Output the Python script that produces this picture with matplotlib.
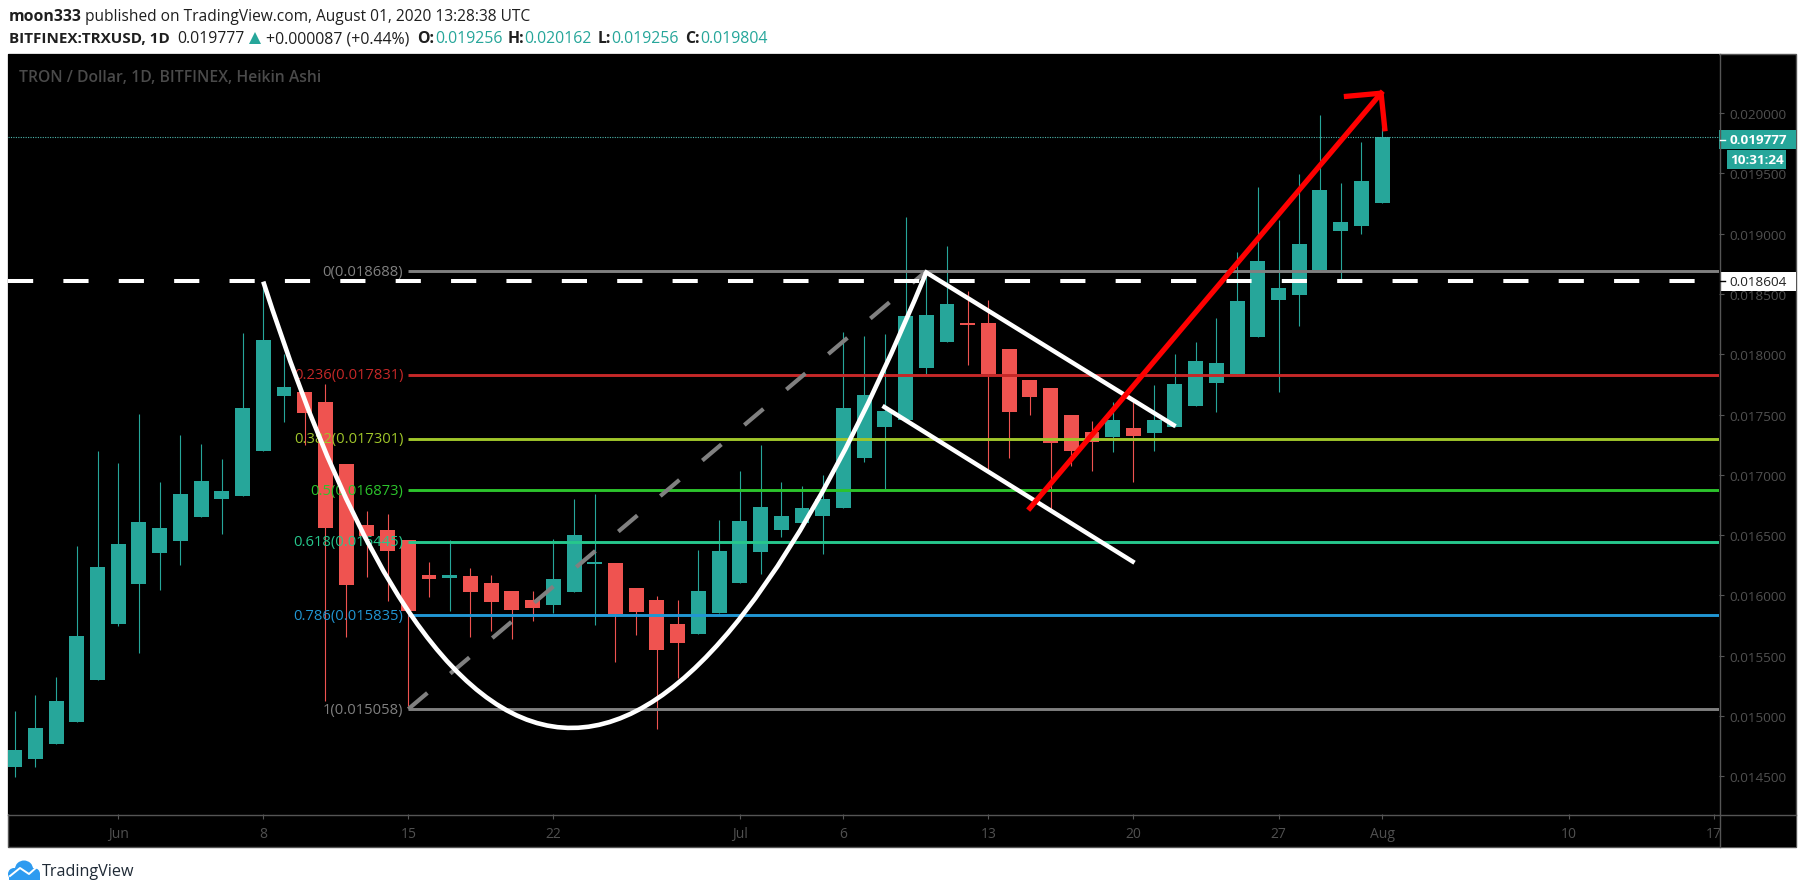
import matplotlib
matplotlib.use("Agg")
import matplotlib.pyplot as plt
from matplotlib.patches import Rectangle, Ellipse, Polygon, PathPatch
from matplotlib.path import Path
from matplotlib.lines import Line2D
import numpy as np

W, H = 1805, 895
plt.rcParams["font.family"] = ["Open Sans", "DejaVu Sans"]

GREEN = "#26a69a"
RED = "#ef5350"
FRAME = "#555555"
TICK_TEXT = "#505050"

# daily Heikin Ashi candles, prices in millionths, first candle is May 27 (day -5 from Jun 1)
first_day = -5
opens = [14579, 14646, 14772, 14947, 15303, 15767, 16099, 16349, 16455, 16648, 16796, 16826, 17194, 17652,
         17688, 17607, 17091, 16588, 16545, 16461, 16171, 16147, 16162, 16105, 16039, 15963, 15921, 16030, 16262,
         16269, 16064, 15964, 15765, 15681, 15856, 16103, 16362, 16543, 16600, 16661, 16727, 17140, 17400, 17454,
         17888, 18102, 18262, 18262, 18045, 17788, 17722, 17499, 17357, 17315, 17390, 17348, 17400, 17571, 17758,
         17838, 18140, 18452, 18493, 18701, 19024, 19060, 19256]
closes = [14721, 14902, 15125, 15665, 16238, 16428, 16612, 16560, 16844, 16952, 16868, 17555, 18119, 17730,
          17510, 16560, 16084, 16494, 16370, 15867, 16138, 16171, 16030, 15948, 15882, 15897, 16138, 16503, 16274,
          15844, 15865, 15548, 15605, 16037, 16368, 16619, 16733, 16661, 16727, 16799, 17556, 17665, 17532, 18319,
          18328, 18419, 18244, 17834, 17523, 17647, 17267, 17201, 17276, 17457, 17321, 17457, 17755, 17945, 17930,
          18444, 18775, 18551, 18916, 19364, 19099, 19439, 19804]
highs = [15044, 15176, 15324, 16413, 17200, 17100, 17507, 16943, 17332, 17257, 17133, 18180, 18602, 18002,
         17688, 17751, 17091, 16702, 16675, 16461, 16280, 16461, 16229, 16168, 16039, 16039, 16467, 16802, 16841,
         16269, 16064, 15994, 15964, 16377, 16628, 17035, 17249, 16941, 16908, 17002, 18186, 18153, 18168, 19139,
         18678, 18898, 18527, 18452, 18045, 17788, 17722, 17499, 17448, 17602, 17602, 17746, 18003, 18102, 18303,
         18850, 19389, 19115, 19497, 19986, 19422, 19762, 20162]
lows = [14495, 14579, 14772, 14947, 15303, 15749, 15526, 16042, 16250, 16648, 16506, 16826, 17194, 17435,
        17245, 15128, 15659, 16153, 15951, 15083, 15987, 15873, 15653, 15707, 15641, 15791, 15852, 16030, 15752,
        15452, 15669, 14894, 15316, 15681, 15856, 16103, 16181, 16486, 16600, 16347, 16727, 17110, 16881, 17454,
        17834, 18102, 17912, 17050, 17140, 17496, 16718, 17074, 17035, 17191, 16941, 17201, 17400, 17571, 17518,
        17838, 18140, 17683, 18231, 18701, 18618, 18999, 19256]

fib_ratios = ["0", "0.236", "0.382", "0.5", "0.618", "0.786", "1"]
fib_prices = [0.018688, 0.017831, 0.017301, 0.016873, 0.016445, 0.015835, 0.015058]
fib_colors = ["#808080", "#c62828", "#a0c62a", "#2cc42c", "#26c78c", "#2196d3", "#808080"]
fib_start = 14

resistance = 0.018604
last_price = 0.019777
last_close = 0.019804

# hand drawn shapes: days from Jun 1 and prices
cup_days = [7.0, 20.9, 39.0]
cup_prices = [18602, 11163, 18678]
flag_upper_days = [39.0, 50.94]
flag_upper_prices = [18678, 17412]
flag_lower_days = [36.98, 48.96]
flag_lower_prices = [17562, 16281]
fib_link_days = [14.0, 39.0]
fib_link_prices = [15058, 18688]
arrow_days = [44.0, 60.95]
arrow_prices = [16724, 20164]
arrow_head_days = [59.28, 60.95, 61.13]
arrow_head_prices = [20138, 20164, 19870]

x_ticks = [0, 7, 14, 21, 30, 35, 42, 49, 56, 61, 70, 77]
x_labels = ["Jun", "8", "15", "22", "Jul", "6", "13", "20", "27", "Aug", "10", "17"]
y_ticks = [0.0145, 0.015, 0.0155, 0.016, 0.0165, 0.017, 0.0175, 0.018, 0.0185, 0.019, 0.0195, 0.02]


def fx(x):
    return x / W


def fy(y):
    return 1 - y / H


def micro(values):
    return np.array(values) / 1e6


fig = plt.figure(figsize=(W / 100, H / 100), dpi=100, facecolor="white")

# chart box, price strip and date strip
fig.add_artist(Rectangle((fx(8), fy(848)), fx(1796 - 8), (848 - 55) / H, transform=fig.transFigure,
                         facecolor="black", edgecolor=FRAME, linewidth=1, zorder=-1))

ax = fig.add_axes([fx(8), fy(815), fx(1719 - 8), (815 - 55) / H], facecolor="black")
ax.set_xlim(-5.32, 77.26)
ax.set_ylim(0.014188, 0.020489)
for side in ["top", "left", "right", "bottom"]:
    ax.spines[side].set_visible(False)

days = first_day + np.arange(len(opens))
o, c, hi, lo = micro(opens), micro(closes), micro(highs), micro(lows)
colors = [GREEN if cc >= oo else RED for oo, cc in zip(o, c)]
ax.vlines(days, lo, hi, colors=colors, linewidth=0.8, zorder=2)
ax.bar(days, np.abs(c - o), bottom=np.minimum(o, c), width=0.72, color=colors, linewidth=0, zorder=2.1)

# fib retracement
for ratio, price, color in zip(fib_ratios, fib_prices, fib_colors):
    ax.hlines(price, fib_start, 77.26, colors=color, linewidth=2.1, zorder=3)
    ax.text(fib_start - 0.24, price, f"{ratio}({price:.6f})", color=color, fontsize=10.6,
            ha="right", va="center", zorder=3)

ax.axhline(last_close, color="#4db6ac", linewidth=0.8, linestyle=(0, (1, 1.2)), zorder=3)

ax.plot(fib_link_days, micro(fib_link_prices), color="#808080", linewidth=3.0,
        linestyle=(0, (6, 7.2)), zorder=4)
ax.axhline(resistance, color="white", linewidth=2.9, linestyle=(0, (6.25, 7.5)), zorder=4)
# the cup is a single quadratic curve, the middle point is its control point
cup_path = Path(np.column_stack([cup_days, micro(cup_prices)]), [Path.MOVETO, Path.CURVE3, Path.CURVE3])
ax.add_patch(PathPatch(cup_path, facecolor="none", edgecolor="white", linewidth=3.3, zorder=5))
ax.plot(flag_upper_days, micro(flag_upper_prices), color="white", linewidth=3.2, zorder=5)
ax.plot(flag_lower_days, micro(flag_lower_prices), color="white", linewidth=3.2, zorder=5)
ax.plot(arrow_days, micro(arrow_prices), color="#ff0000", linewidth=3.8, zorder=6)
ax.plot(arrow_head_days, micro(arrow_head_prices), color="#ff0000", linewidth=3.8, zorder=6,
        solid_joinstyle="round")

ax.set_xticks(x_ticks)
ax.set_xticklabels(x_labels)
ax.set_yticks(y_ticks)
ax.set_yticklabels([f"{v:.6f}" for v in y_ticks])
ax.yaxis.tick_right()
ax.tick_params(axis="x", direction="out", length=3.5, width=0.8, color=FRAME, labelcolor=TICK_TEXT,
               labelsize=10, pad=5)
ax.tick_params(axis="y", direction="out", length=3.5, width=0.8, color=FRAME, labelcolor=TICK_TEXT,
               labelsize=9.7, pad=4)


def fig_rect(x0, y0, x1, y1, color, z=4):
    fig.add_artist(Rectangle((fx(x0), fy(y1)), fx(x1 - x0), (y1 - y0) / H, transform=fig.transFigure,
                             facecolor=color, edgecolor="none", zorder=z))


def fig_line(xs, ys, color=FRAME, lw=1.0, z=5):
    fig.add_artist(Line2D([fx(v) for v in xs], [fy(v) for v in ys], transform=fig.transFigure,
                          color=color, linewidth=lw, zorder=z))


# the "17" label runs under the price strip
fig_rect(1719.5, 816, 1795.5, 847.5, "black")
fig_line([8, 1796], [815.5, 815.5])
fig_line([1719.5, 1719.5], [55, 848])

# price tags
fig_rect(1719, 131, 1796, 150, GREEN)
fig_rect(1727, 151, 1786, 170, GREEN)
fig_rect(1720, 272.5, 1796, 291.5, "white")
fig_line([1720, 1725], [140.5, 140.5], color="white")
fig_line([1720, 1725], [282, 282], color="black")
fig.text(fx(1758), fy(140.5), f"{last_price:.6f}", color="white", fontsize=9.7, fontweight="bold",
         ha="center", va="center", zorder=6)
fig.text(fx(1757), fy(160.5), "10:31:24", color="white", fontsize=9.7, fontweight="bold",
         ha="center", va="center", zorder=6)
fig.text(fx(1758), fy(282), f"{resistance:.6f}", color="#222222", fontsize=9.7,
         ha="center", va="center", zorder=6)

# header text, placed piece by piece
INK = "#1f1f1f"
HEAD = 11.4
fig.text(fx(9), fy(17), "moon333", color=INK, fontsize=HEAD, fontweight="bold", va="center")
fig.text(fx(85), fy(17), "published on TradingView.com, August 01, 2020 13:28:38 UTC", color=INK,
         fontsize=11.2, va="center")
fig.text(fx(9), fy(39), "BITFINEX:TRXUSD, 1D", color=INK, fontsize=11, fontweight="bold", va="center")
fig.text(fx(177), fy(39), "0.019777", color=INK, fontsize=HEAD, va="center")
fig.add_artist(Polygon([[fx(249), fy(45)], [fx(261), fy(45)], [fx(255), fy(33)]], transform=fig.transFigure,
                       facecolor=GREEN, edgecolor="none"))
fig.text(fx(266), fy(39), "+0.000087 (+0.44%)", color=INK, fontsize=HEAD, va="center")
for name, name_x, value, value_x in [("O:", 417, "0.019256", 435), ("H:", 508, "0.020162", 524),
                                     ("L:", 598, "0.019256", 611), ("C:", 685, "0.019804", 700)]:
    fig.text(fx(name_x), fy(39), name, color=INK, fontsize=HEAD, fontweight="bold", va="center")
    fig.text(fx(value_x), fy(39), value, color=GREEN, fontsize=HEAD, va="center")

fig.text(fx(19), fy(78), "TRON / Dollar, 1D, BITFINEX, Heikin Ashi", color="#4a4a4a", fontsize=11.35,
         fontweight="semibold", va="center", zorder=6)

# TradingView logo
LOGO = "#2e9bf0"
for cx, cy, ew, eh in [(14, 875, 12, 12), (24, 870, 18, 17), (34, 875, 12, 12)]:
    fig.add_artist(Ellipse((fx(cx), fy(cy)), ew / W, eh / H, transform=fig.transFigure,
                           facecolor=LOGO, edgecolor="none", zorder=2))
fig_rect(9, 875, 40, 881, LOGO, z=2)
fig_line([10, 20, 29, 38], [877, 869, 875, 867], color="white", lw=1.4, z=3)
fig.text(fx(42), fy(872), "TradingView", color="#1f2a36", fontsize=11.6, va="center")

fig.savefig("out.png", dpi=100, facecolor="white")
